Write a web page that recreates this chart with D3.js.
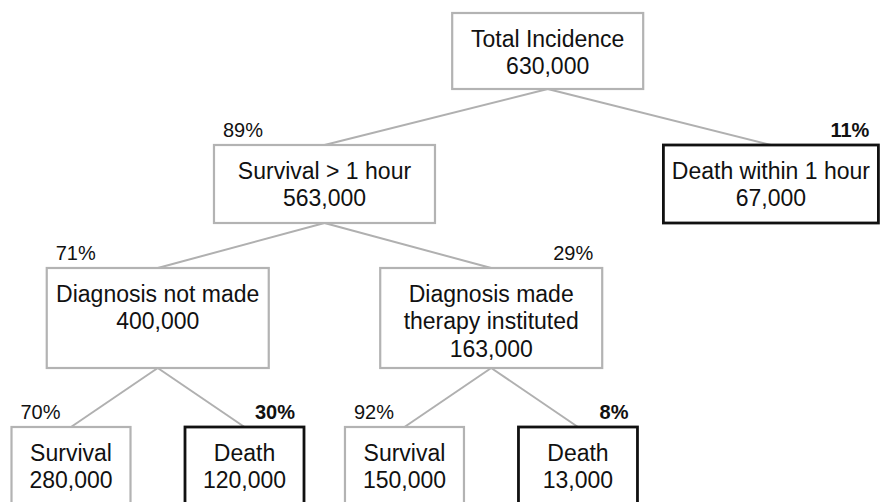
<!DOCTYPE html>
<html>
<head>
<meta charset="utf-8">
<script src="https://cdn.jsdelivr.net/npm/d3@7"></script>
<style>
  html, body { margin: 0; padding: 0; background: #ffffff; }
  svg { display: block; }
  text { font-family: "Liberation Sans", Arial, Helvetica, sans-serif; fill: #111111; }
</style>
</head>
<body>
<svg id="chart" width="880" height="502"></svg>
<script>
// ---- data ----
const nodeIds = ["total", "surv1h", "death1h", "dxNot", "dxMade", "survA", "deathA", "survB", "deathB"];
const nodeNames = ["Total Incidence", "Survival > 1 hour", "Death within 1 hour", "Diagnosis not made",
                   "Diagnosis made\ntherapy instituted", "Survival", "Death", "Survival", "Death"];
const nodeCounts = [630000, 563000, 67000, 400000, 163000, 280000, 120000, 150000, 13000];
const nodeParents = [null, "total", "total", "surv1h", "surv1h", "dxNot", "dxNot", "dxMade", "dxMade"];
const branchPercents = [null, 89, 11, 71, 29, 70, 30, 92, 8];
const isDeath = [false, false, true, false, false, false, true, false, true];

// ---- layout settings ----
const W = 880, H = 502;
const levelTop = [13, 145, 268, 427];
const levelHeight = [76, 78, 100, 90];
const levelWidth = [191, 221, 222, 119];
const leafDepth1Width = 215;
const leafStep = 173.5;
const firstLeafCenter = 71;
const lineGap = 27.5, firstBaseline = 33.5;

const rows = nodeIds.map((id, i) => ({
  id, parent: nodeParents[i], name: nodeNames[i], count: nodeCounts[i],
  pct: branchPercents[i], death: isDeath[i]
}));

const root = d3.stratify().id(d => d.id).parentId(d => d.parent)(rows);

d3.cluster()
  .nodeSize([leafStep, 100])
  .separation((a, b) => a.parent === b.parent ? 1 : (a.depth !== b.depth ? 1.112 : 0.922))(root);

const leaves = root.leaves();
const shift = firstLeafCenter - leaves[0].x;
const xScale = d3.scaleLinear().domain([0, 1]).range([shift, shift + 1]);

root.each(n => {
  n.cx = xScale(n.x);
  n.w = (n.depth === 1 && !n.children) ? leafDepth1Width : levelWidth[n.depth];
  n.top = levelTop[n.depth];
  n.h = levelHeight[n.depth];
});

const svg = d3.select("#chart");
const fmt = d3.format(",");

// links
svg.append("g").selectAll("line")
  .data(root.links())
  .join("line")
  .attr("x1", d => d.source.cx)
  .attr("y1", d => d.source.top + d.source.h)
  .attr("x2", d => d.target.cx)
  .attr("y2", d => d.target.top)
  .attr("stroke", "#b0b0b0")
  .attr("stroke-width", 2);

// boxes
const nodes = svg.append("g").selectAll("g")
  .data(root.descendants())
  .join("g");

nodes.append("rect")
  .attr("x", d => d.cx - d.w / 2)
  .attr("y", d => d.top)
  .attr("width", d => d.w)
  .attr("height", d => d.h)
  .attr("fill", "#ffffff")
  .attr("stroke", d => d.data.death ? "#111111" : "#b3b3b3")
  .attr("stroke-width", d => d.data.death ? 2.8 : 2.2);

nodes.each(function(d) {
  const lines = d.data.name.split("\n").concat([fmt(d.data.count)]);
  const g = d3.select(this);
  g.selectAll("text.lbl")
    .data(lines)
    .join("text")
    .attr("class", "lbl")
    .attr("x", d.cx)
    .attr("y", (t, i) => d.top + firstBaseline + i * lineGap)
    .attr("text-anchor", "middle")
    .attr("font-size", 23)
    .text(t => t);
});

// percent labels
nodes.filter(d => d.parent)
  .append("text")
  .attr("x", d => d.cx < d.parent.cx ? d.cx - d.w / 2 + 9 : d.cx + d.w / 2 - 9)
  .attr("y", d => d.top - 8)
  .attr("text-anchor", d => d.cx < d.parent.cx ? "start" : "end")
  .attr("font-size", 20)
  .attr("font-weight", d => d.data.death ? "bold" : "normal")
  .text(d => d.data.pct + "%");
</script>
</body>
</html>
